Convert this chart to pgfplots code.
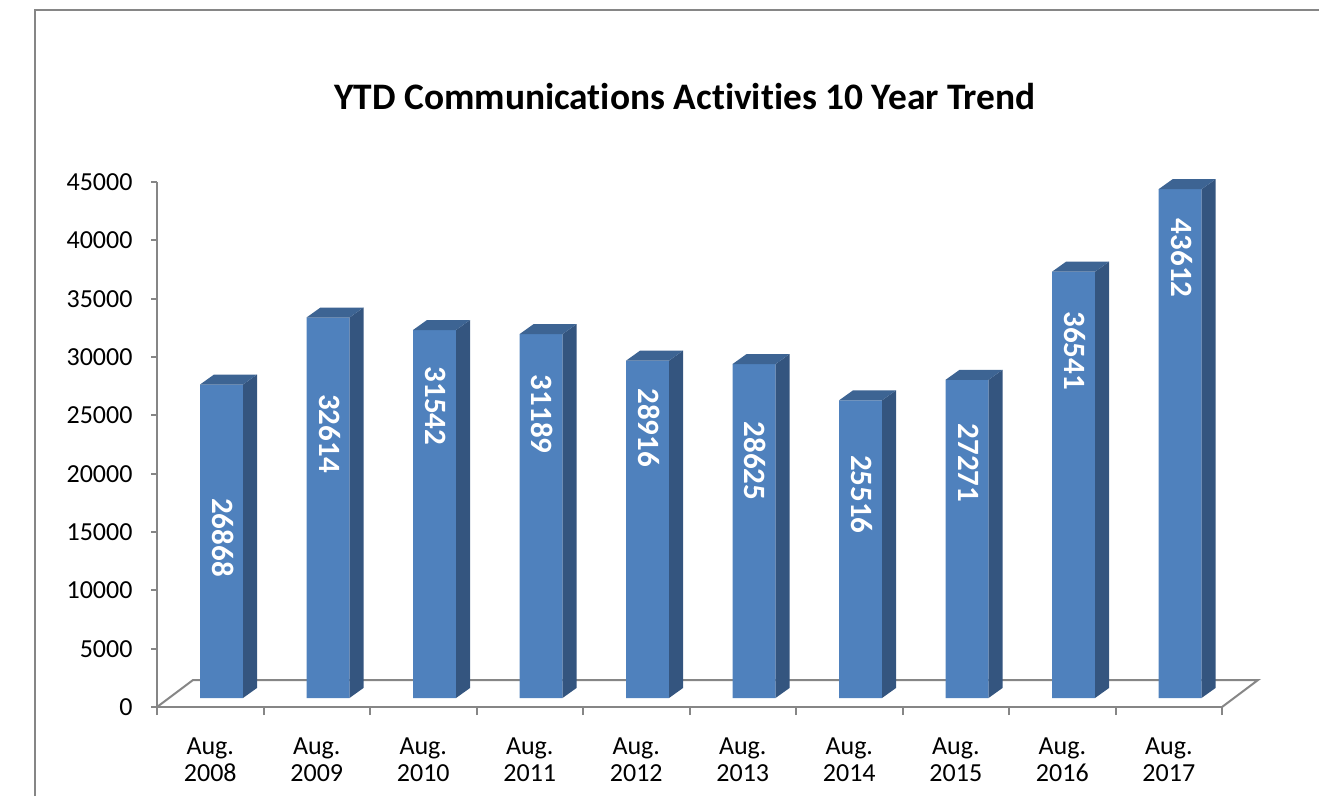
\documentclass[border=0pt]{standalone}
\usepackage{fontspec}
\setmainfont{Carlito}[Ligatures=NoCommon]
\usepackage{pgfplots}
\pgfplotsset{compat=1.18}
\usepackage{pgfplotstable}

\definecolor{barfront}{HTML}{4F81BD}
\definecolor{barside}{HTML}{34557F}
\definecolor{bartop}{HTML}{3D6493}
\definecolor{axisgray}{HTML}{868686}

\pgfplotstableread{
x v off
0 26868 153
1 32614 116
2 31542 76
3 31189 80
4 28916 67
5 28625 97
6 25516 94
7 27271 83
8 36541 79
9 43612 69
}\ytddata

\begin{document}
\begin{tikzpicture}[x=1pt,y=1pt]
\useasboundingbox (0,0) rectangle (1319,796);
\draw[axisgray, line width=2pt] (35,0) -- (35,786) -- (1319,786);
\node[font=\fontsize{37.4}{42}\selectfont\bfseries] at (685,699) {YTD Communications Activities 10 Year Trend};
% 3D floor (back and side edges); the front edge is the x axis line
\draw[axisgray, line width=2pt, line join=miter] (157,89) -- (193,116) -- (1258,116) -- (1222,89);
\begin{axis}[
  at={(157pt,89pt)}, anchor=south west,
  scale only axis, width=1065pt, height=525pt,
  xmin=-0.5, xmax=9.5, ymin=0, ymax=45000,
  ybar stacked, bar width=43pt,
  clip=false,
  axis x line*=bottom, axis y line*=left,
  axis line style={draw=axisgray, line width=2pt},
  xtick={0,...,9},
  xticklabels={{Aug.\\2008},{Aug.\\2009},{Aug.\\2010},{Aug.\\2011},{Aug.\\2012},{Aug.\\2013},{Aug.\\2014},{Aug.\\2015},{Aug.\\2016},{Aug.\\2017}},
  xticklabel style={align=center, font=\fontsize{26}{27.5}\selectfont, yshift=-21pt},
  major x tick style={draw=none},
  minor xtick={-0.5,0.5,1.5,2.5,3.5,4.5,5.5,6.5,7.5,8.5,9.5},
  minor x tick style={draw=axisgray, line width=2pt},
  minor tick length=8pt,
  ytick={0,5000,...,45000},
  yticklabels={0,5000,10000,15000,20000,25000,30000,35000,40000,45000},
  scaled y ticks=false,
  ytick style={draw=axisgray, line width=2pt},
  major tick length=6pt,
  tick align=outside,
  yticklabel style={font=\fontsize{26}{30}\selectfont, xshift=-15pt},
]
\addplot[draw=none, fill=none, forget plot] table[x expr=\thisrow{x}+0.10563, y expr=771]{\ytddata};
\addplot[fill=barfront, draw=none,
  scatter, mark=*, mark size=0.1pt, mark options={draw=none, fill=none},
  point meta=\thisrow{v}, point meta min=0, point meta max=45000,
  visualization depends on={\thisrow{off} \as \loff},
  scatter/@pre marker code/.code={%
    \pgfmathsetmacro\barh{0.525*\pgfplotspointmetatransformed}%
    \fill[barside] (21.5pt,0pt) -- (35.5pt,10pt) -- (35.5pt,{(10-\barh)*1pt}) -- (21.5pt,{-\barh*1pt}) -- cycle;
    \fill[bartop] (-21.5pt,0pt) -- (21.5pt,0pt) -- (35.5pt,10pt) -- (-7.5pt,10pt) -- cycle;
    \node[anchor=center, rotate=-90, text=white, font=\fontsize{31}{36}\selectfont\bfseries, inner sep=0pt] at (1.5pt,{-\loff*1pt}) {\pgfmathprintnumber[fixed,precision=0,1000 sep={},assume math mode=true]{\pgfplotspointmeta}};
    \scope[opacity=0]
  },
  scatter/@post marker code/.code={\endscope}]
  table[x expr=\thisrow{x}+0.10563, y=v]{\ytddata};
\end{axis}
\end{tikzpicture}
\end{document}
